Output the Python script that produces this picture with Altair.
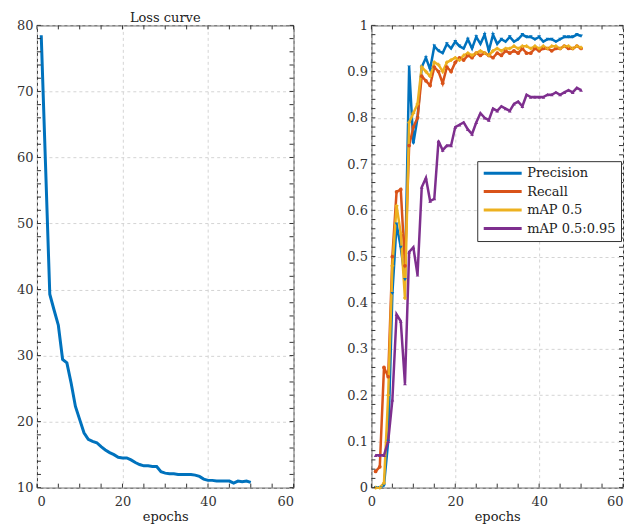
import altair as alt
import pandas as pd

FONT = "DejaVu Serif"

# ---------------- data ----------------
epochs = list(range(1, 51))

loss = [78.5, 59.0, 39.3, 36.9, 34.6, 29.4, 28.9, 25.8, 22.3, 20.3,
        18.3, 17.3, 17.0, 16.8, 16.2, 15.7, 15.3, 15.0, 14.6, 14.5,
        14.5, 14.2, 13.8, 13.5, 13.3, 13.3, 13.2, 13.2, 12.4, 12.2,
        12.1, 12.1, 12.0, 12.0, 12.0, 12.0, 11.9, 11.7, 11.3, 11.1,
        11.1, 11.0, 11.0, 11.0, 11.0, 10.7, 11.0, 10.9, 11.0, 10.8]

precision = [0.0, 0.0, 0.005, 0.10, 0.42, 0.57, 0.52, 0.45, 0.91, 0.745,
             0.80, 0.91, 0.93, 0.905, 0.955, 0.945, 0.94, 0.96, 0.95, 0.965,
             0.955, 0.95, 0.97, 0.95, 0.975, 0.96, 0.98, 0.945, 0.98, 0.96,
             0.97, 0.965, 0.975, 0.965, 0.97, 0.98, 0.975, 0.975, 0.97, 0.975,
             0.965, 0.97, 0.97, 0.965, 0.97, 0.975, 0.975, 0.975, 0.98, 0.977]

recall = [0.035, 0.045, 0.26, 0.24, 0.50, 0.64, 0.645, 0.48, 0.74, 0.78,
          0.80, 0.89, 0.88, 0.87, 0.91, 0.90, 0.875, 0.91, 0.90, 0.92,
          0.93, 0.925, 0.935, 0.93, 0.94, 0.935, 0.94, 0.935, 0.93, 0.94,
          0.935, 0.945, 0.94, 0.945, 0.94, 0.95, 0.94, 0.94, 0.95, 0.945,
          0.95, 0.95, 0.945, 0.95, 0.95, 0.955, 0.95, 0.95, 0.955, 0.95]

map50 = [0.0, 0.0, 0.01, 0.20, 0.48, 0.61, 0.55, 0.41, 0.79, 0.81,
         0.83, 0.91, 0.90, 0.89, 0.92, 0.915, 0.90, 0.92, 0.925, 0.93,
         0.925, 0.935, 0.94, 0.935, 0.94, 0.945, 0.94, 0.935, 0.945, 0.95,
         0.945, 0.95, 0.95, 0.955, 0.95, 0.955, 0.955, 0.95, 0.955, 0.95,
         0.955, 0.95, 0.955, 0.955, 0.95, 0.955, 0.955, 0.95, 0.955, 0.952]

map5095 = [0.07, 0.07, 0.07, 0.10, 0.19, 0.375, 0.36, 0.225, 0.51, 0.52,
           0.46, 0.65, 0.67, 0.62, 0.625, 0.75, 0.73, 0.74, 0.74, 0.78,
           0.785, 0.79, 0.775, 0.765, 0.79, 0.81, 0.80, 0.795, 0.82, 0.815,
           0.825, 0.82, 0.815, 0.83, 0.835, 0.825, 0.85, 0.845, 0.845, 0.845,
           0.845, 0.85, 0.85, 0.855, 0.85, 0.855, 0.86, 0.855, 0.865, 0.86]

series_names = ["Precision", "Recall", "mAP 0.5", "mAP 0.5:0.95"]
series_colors = ["#0072BD", "#D95319", "#EDB120", "#7E2F8E"]
series_shapes = ["triangle-down", "circle", "cross", "triangle-up"]

x_labels = [0, 20, 40, 60]
loss_y_labels = [10, 20, 30, 40, 50, 60, 70, 80]
metric_y_labels = [0, 0.1, 0.2, 0.3, 0.4, 0.5, 0.6, 0.7, 0.8, 0.9, 1]
x_minor = list(range(0, 61, 5))
loss_y_minor = list(range(10, 81, 2))
metric_y_minor = [round(i * 0.02, 2) for i in range(51)]

# ---------------- layout ----------------
W1, W2, H = 257, 252, 463
TL = 4
AX = "#333333"

loss_df = pd.DataFrame({"epoch": epochs, "loss": loss})
metric_vals = [precision, recall, map50, map5095]
metrics_df = pd.DataFrame({
    "epoch": epochs * 4,
    "value": sum(metric_vals, []),
    "series": sum([[n] * len(epochs) for n in series_names], []),
})

xaxis1 = alt.Axis(values=x_labels, labelPadding=8, titlePadding=2)
xaxis2 = alt.Axis(values=x_labels, labelPadding=8, titlePadding=2,
                  labelAlign={"condition": {"test": "datum.value >= 60", "value": "right"},
                              "value": "center"})
loss_yaxis = alt.Axis(values=loss_y_labels, labelPadding=4)
metric_yaxis = alt.Axis(values=metric_y_labels, format="~g", labelPadding=4)


def tick_layers(xt, yt, xscale, yscale, xaxis, yaxis, W):
    xdf = pd.DataFrame({"epoch": xt})
    ydf = pd.DataFrame({"v": yt})
    st = dict(color=AX, strokeWidth=1)
    bx = alt.X("epoch:Q", scale=xscale, title="epochs", axis=xaxis)
    by = alt.Y("v:Q", scale=yscale, title=None, axis=yaxis)
    return [
        alt.Chart(xdf).mark_rule(**st).encode(x=bx, y=alt.value(H), y2=alt.value(H - TL)),
        alt.Chart(xdf).mark_rule(**st).encode(x=bx, y=alt.value(0), y2=alt.value(TL)),
        alt.Chart(ydf).mark_rule(**st).encode(y=by, x=alt.value(0), x2=alt.value(TL)),
        alt.Chart(ydf).mark_rule(**st).encode(y=by, x=alt.value(W), x2=alt.value(W - TL)),
    ]


# left panel
xs1 = alt.Scale(domain=[0, 60], nice=False, zero=False)
ys1 = alt.Scale(domain=[10, 80], nice=False, zero=False)
loss_line = alt.Chart(loss_df).mark_line(color="#0072BD", strokeWidth=3).encode(
    x=alt.X("epoch:Q", scale=xs1, title="epochs", axis=xaxis1),
    y=alt.Y("loss:Q", scale=ys1, title=None, axis=loss_yaxis),
)
left = alt.layer(loss_line,
                 *tick_layers(x_minor, loss_y_minor, xs1, ys1, xaxis1, loss_yaxis, W1)).properties(
    width=W1, height=H,
    title=alt.TitleParams("Loss curve", font=FONT, fontSize=13, fontWeight="normal",
                          color="#222222", offset=-6, anchor="middle"),
)

# right panel
xs2 = alt.Scale(domain=[0, 60], nice=False, zero=False)
ys2 = alt.Scale(domain=[0, 1], nice=False, zero=False)
cscale = alt.Scale(domain=series_names, range=series_colors)
mx = alt.X("epoch:Q", scale=xs2, title="epochs", axis=xaxis2)
my = alt.Y("value:Q", scale=ys2, title=None, axis=metric_yaxis)

metric_lines = alt.Chart(metrics_df).mark_line(strokeWidth=2.5).encode(
    x=mx, y=my,
    color=alt.Color("series:N", scale=cscale, sort=series_names,
                    legend=alt.Legend(
                        title=None, orient="none", legendX=441, legendY=136,
                        symbolType="stroke", symbolSize=1444, symbolStrokeWidth=3,
                        clipHeight=14, rowPadding=4.5, padding=5, labelOffset=4,
                        labelFont=FONT, labelFontSize=13, labelColor="#222222",
                        strokeColor=AX, fillColor="white", cornerRadius=0)),
)
point_layers = []
for name, vals, col, shp in zip(series_names, metric_vals, series_colors, series_shapes):
    pdf = pd.DataFrame({"epoch": epochs, "value": vals})
    point_layers.append(
        alt.Chart(pdf).mark_point(filled=True, size=14, opacity=1, color=col, shape=shp)
        .encode(x=mx, y=my)
    )

right = alt.layer(metric_lines, *point_layers,
                  *tick_layers(x_minor, metric_y_minor, xs2, ys2, xaxis2, metric_yaxis, W2)).properties(
    width=W2, height=H)

chart = alt.hconcat(left, right, spacing=78, bounds="flush").properties(
    padding={"left": 7, "top": 3, "right": 0, "bottom": 0}
).configure_view(
    stroke=AX, strokeWidth=1
).configure_axis(
    labelFont=FONT, labelFontSize=13, labelColor="#333333",
    titleFont=FONT, titleFontSize=13, titleFontWeight="normal", titleColor="#222222",
    domain=False, ticks=False, grid=True, gridColor="#d4d4d4", gridDash=[3, 3], gridWidth=1,
)

chart.save("out.html", embed_options={"renderer": "svg", "actions": False})
